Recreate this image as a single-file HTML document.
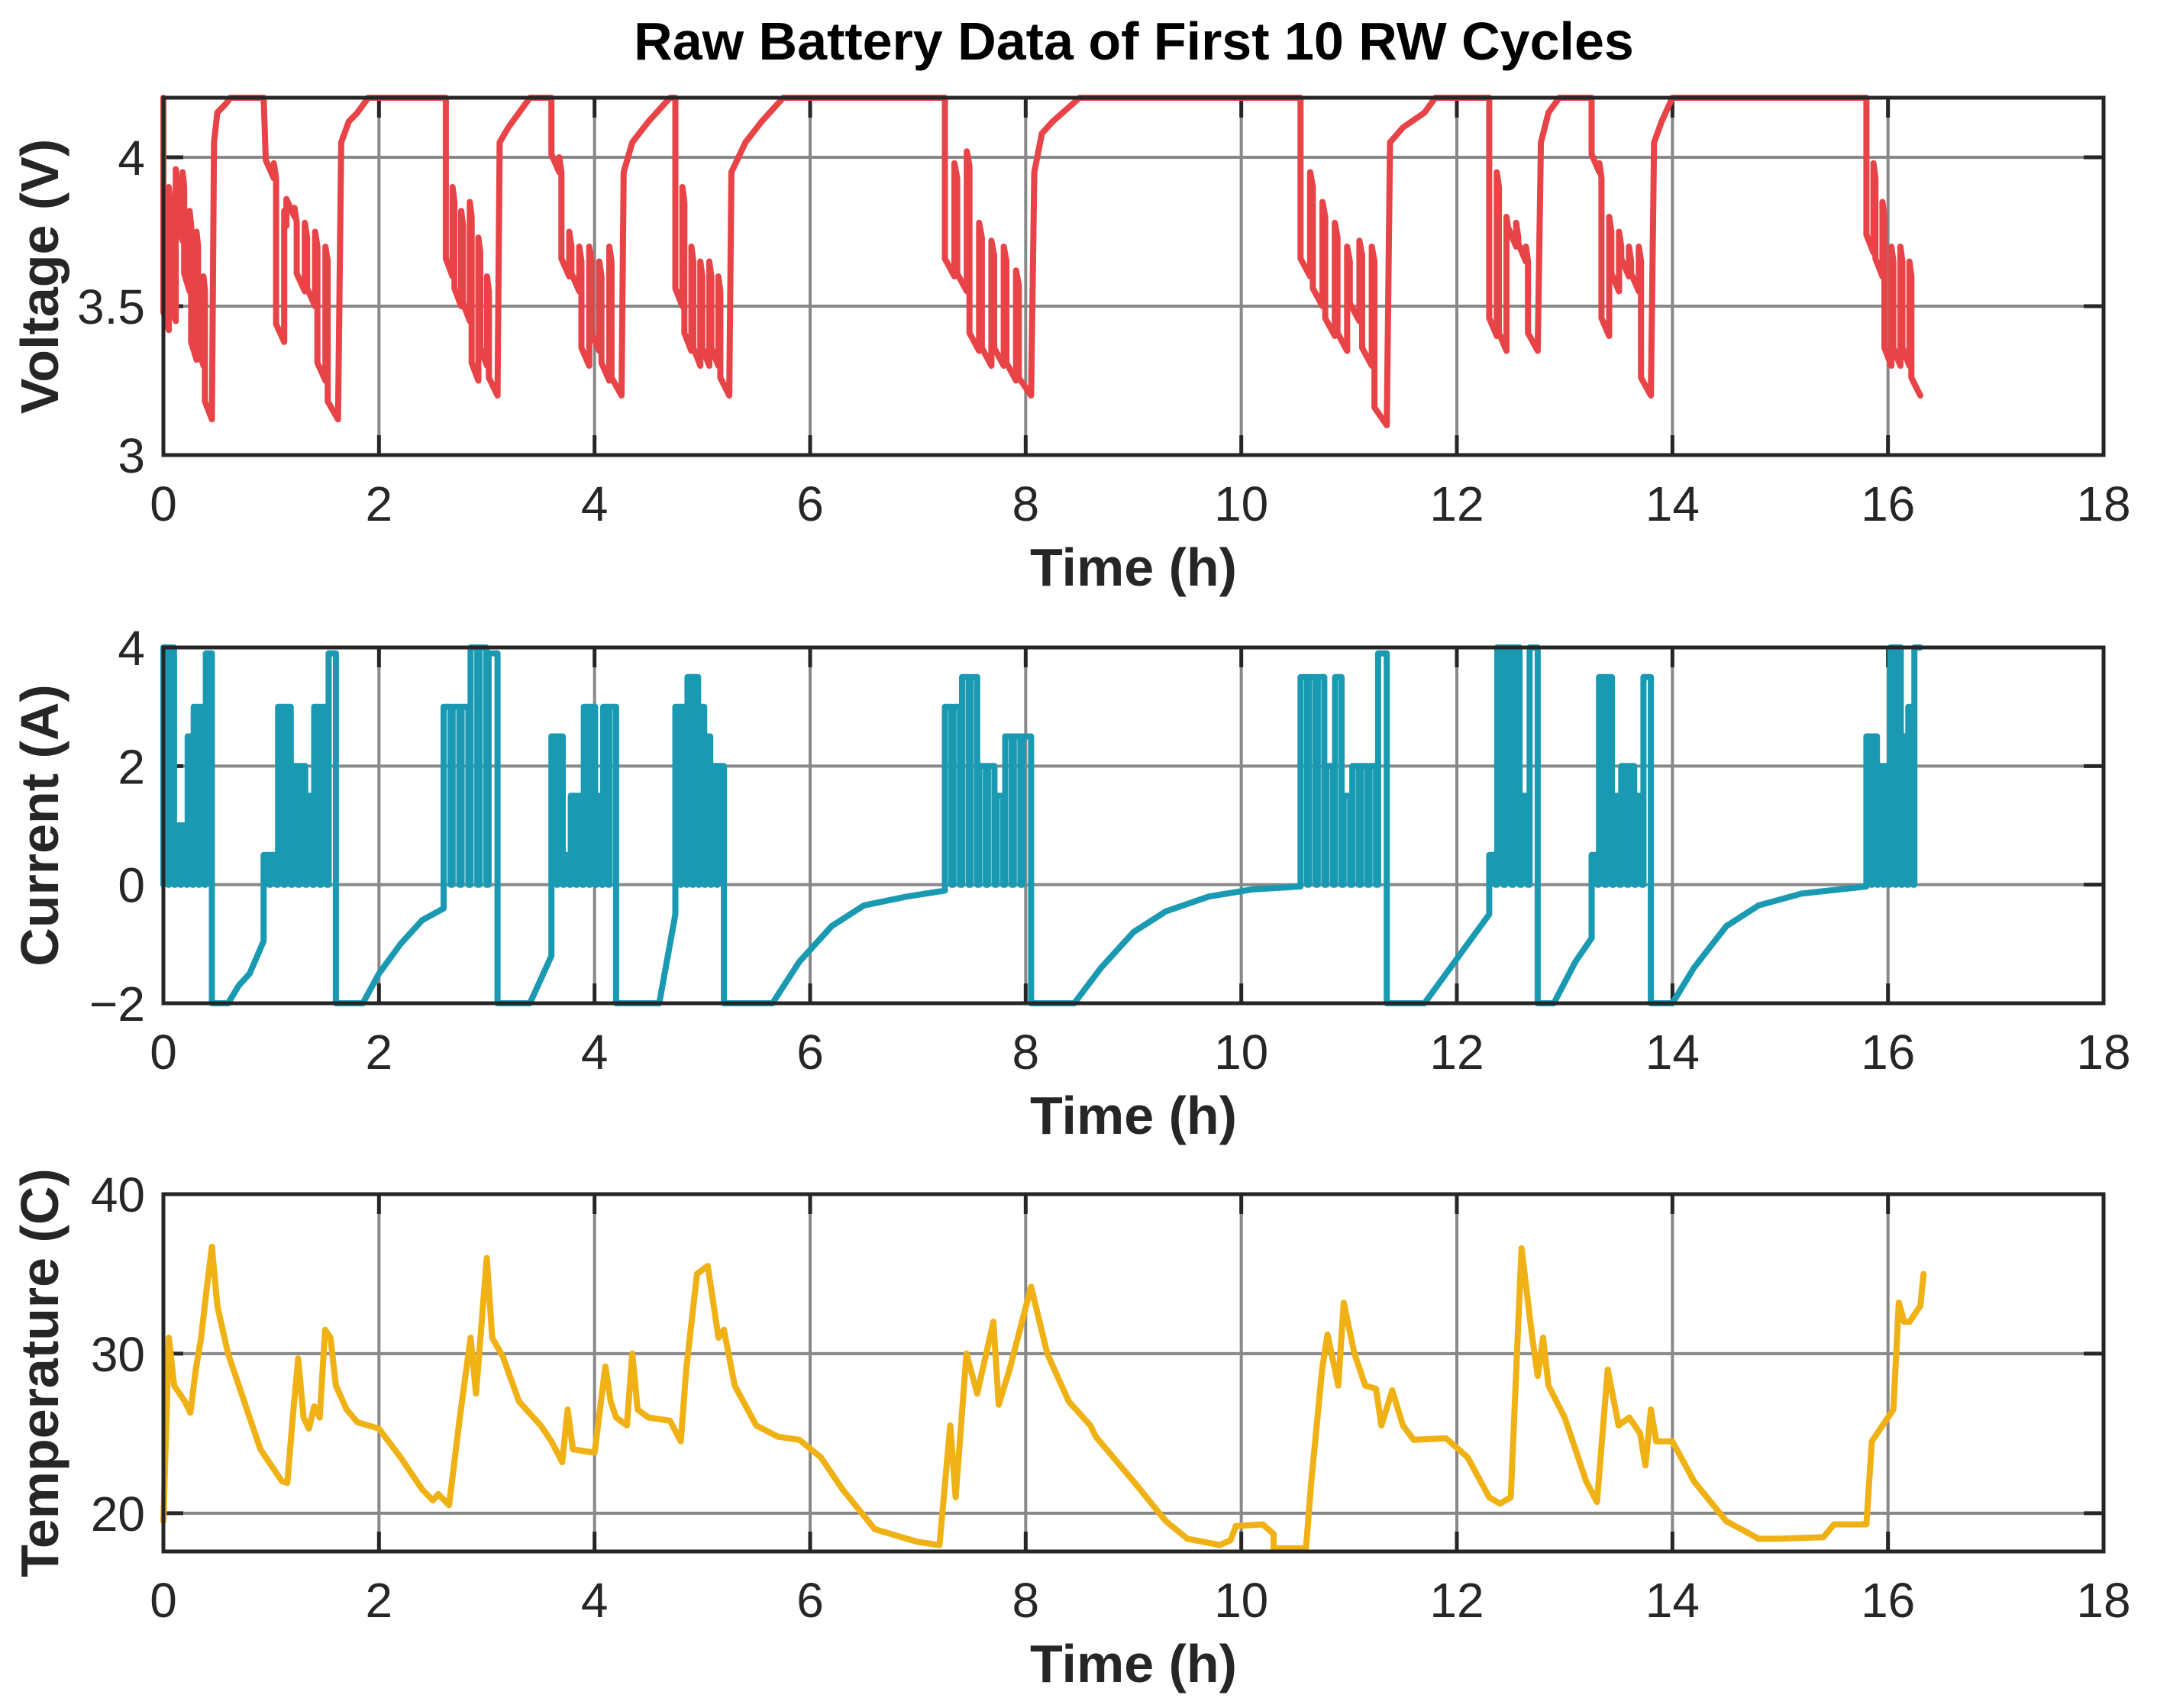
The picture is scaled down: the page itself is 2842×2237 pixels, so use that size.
<!DOCTYPE html>
<html><head><meta charset="utf-8"><style>
html,body{margin:0;padding:0;background:#fff}
svg{display:block}
text{font-family:"Liberation Sans",sans-serif;fill:#262626}
.tick{font-size:64px}
.lab{font-size:70px;font-weight:bold}
</style></head><body>
<svg id="chart" width="2842" height="2237" viewBox="0 0 2842 2237" xmlns="http://www.w3.org/2000/svg">
<text x="1485" y="78" text-anchor="middle" style="font-size:70px;font-weight:bold;fill:#000">Raw Battery Data of First 10 RW Cycles</text>
</svg>
<script>
// ---------- data ----------
const xTicks = [0,2,4,6,8,10,12,14,16,18];
const vTicks = [3,3.5,4];
const cTicks = [-2,0,2,4];
const tTicks = [20,30,40];
const vTickLabels = ["3","3.5","4"];
const cTickLabels = ["\u22122","0","2","4"];
const tTickLabels = ["20","30","40"];

const vGroups = [
{s:0,e:0.45,low:[3.42,3.45,3.72,3.55,3.32,3.3,3.12],rest:[3.9,3.96,3.95,3.82,3.75,3.6]},
{s:0.95,e:1.62,low:[3.93,3.38,3.8,3.55,3.5,3.25,3.12],rest:[3.98,3.82,3.83,3.78,3.75,3.7]},
{s:2.62,e:3.1,low:[3.6,3.5,3.45,3.25,3.3,3.2],rest:[3.9,3.82,3.85,3.73,3.6]},
{s:3.6,e:4.25,low:[3.95,3.6,3.55,3.3,3.35,3.25,3.2],rest:[4.0,3.75,3.7,3.7,3.65,3.7]},
{s:4.75,e:5.25,low:[3.5,3.35,3.3,3.3,3.3,3.2],rest:[3.9,3.7,3.65,3.65,3.6]},
{s:7.25,e:8.05,low:[3.6,3.55,3.35,3.3,3.3,3.25,3.2],rest:[3.98,4.02,3.78,3.72,3.7,3.62]},
{s:10.55,e:11.35,low:[3.6,3.5,3.4,3.35,3.45,3.3,3.1],rest:[3.95,3.85,3.78,3.7,3.72,3.7]},
{s:12.3,e:12.75,low:[3.4,3.35,3.7,3.65,3.35],rest:[3.95,3.8,3.78,3.7]},
{s:13.25,e:13.8,low:[3.95,3.4,3.55,3.6,3.55,3.2],rest:[3.98,3.8,3.75,3.7,3.7]},
{s:15.8,e:16.3,low:[3.68,3.6,3.3,3.3,3.3,3.2],rest:[3.98,3.85,3.7,3.7,3.65]}
];
const vCharge = [
[[0,4.2]],
[[0.47,4.05],[0.5,4.15],[0.58,4.18],[0.62,4.2],[0.93,4.2]],
[[1.65,4.05],[1.72,4.12],[1.8,4.15],[1.9,4.2],[2.62,4.2]],
[[3.12,4.05],[3.2,4.1],[3.3,4.15],[3.4,4.2],[3.6,4.2]],
[[4.27,3.95],[4.35,4.05],[4.5,4.12],[4.7,4.2],[4.75,4.2]],
[[5.27,3.95],[5.4,4.05],[5.55,4.12],[5.75,4.2],[7.25,4.2]],
[[8.08,3.95],[8.15,4.08],[8.25,4.12],[8.5,4.2],[10.55,4.2]],
[[11.38,4.05],[11.5,4.1],[11.7,4.15],[11.8,4.2],[12.3,4.2]],
[[12.78,4.05],[12.85,4.15],[12.95,4.2],[13.25,4.2]],
[[13.83,4.05],[13.9,4.12],[14.0,4.2],[15.8,4.2]],
[]
];

const cGroups = [
{s:0,e:0.45,lv:[4,4,1,1,2.5,3,3,3.9]},
{s:0.93,e:1.6,lv:[0.5,0.5,3,3,2,2,1.5,3,3,3.9]},
{s:2.6,e:3.1,lv:[3,3,3,4,4,3.9]},
{s:3.6,e:4.2,lv:[2.5,2.5,0.5,1.5,1.5,3,3,1.5,3,3]},
{s:4.75,e:5.2,lv:[3,3,3.5,3.5,3,2.5,2,2]},
{s:7.25,e:8.05,lv:[3,3,3.5,3.5,2,2,1.5,2.5,2.5,2.5]},
{s:10.55,e:11.35,lv:[3.5,3.5,3.5,2,3.5,1.5,2,2,2,3.9]},
{s:12.3,e:12.75,lv:[0.5,4,4,4,1.5,4]},
{s:13.25,e:13.8,lv:[0.5,3.5,3.5,1.5,2,2,1.5,3.5]},
{s:15.8,e:16.3,lv:[2.5,2.5,2,2,4,4,2.5,3,4]}
];
const cCharge = [
[[0,0]],
[[0.45,-2],[0.6,-2],[0.7,-1.7],[0.8,-1.5],[0.93,-0.95]],
[[1.6,-2],[1.85,-2],[2.0,-1.5],[2.2,-1.0],[2.4,-0.6],[2.6,-0.4]],
[[3.1,-2],[3.4,-2],[3.6,-1.2]],
[[4.2,-2],[4.6,-2],[4.75,-0.5]],
[[5.2,-2],[5.65,-2],[5.9,-1.3],[6.2,-0.7],[6.5,-0.35],[6.9,-0.2],[7.25,-0.1]],
[[8.05,-2],[8.45,-2],[8.7,-1.4],[9.0,-0.8],[9.3,-0.45],[9.7,-0.2],[10.1,-0.08],[10.55,-0.03]],
[[11.35,-2],[11.7,-2],[11.9,-1.5],[12.1,-1.0],[12.3,-0.5]],
[[12.75,-2],[12.9,-2],[13.1,-1.3],[13.25,-0.9]],
[[13.8,-2],[14.0,-2],[14.2,-1.4],[14.5,-0.7],[14.8,-0.35],[15.2,-0.15],[15.8,-0.03]],
[]
];

const tempT = [0,0.05,0.1,0.2,0.25,0.3,0.35,0.4,0.45,0.5,0.6,0.7,0.8,0.9,1.0,1.1,1.15,1.2,1.25,1.3,1.35,1.4,1.45,1.5,1.55,1.6,1.7,1.8,2.0,2.2,2.4,2.5,2.55,2.65,2.75,2.85,2.9,3.0,3.05,3.15,3.3,3.5,3.6,3.7,3.75,3.8,4.0,4.1,4.15,4.2,4.3,4.35,4.4,4.5,4.7,4.8,4.85,4.95,5.05,5.15,5.2,5.3,5.5,5.7,5.9,6.1,6.3,6.6,7.0,7.2,7.3,7.35,7.45,7.55,7.7,7.75,7.85,8.05,8.2,8.4,8.6,8.65,9.0,9.3,9.5,9.8,9.9,9.95,10.2,10.3,10.3,10.6,10.65,10.75,10.8,10.9,10.95,11.05,11.15,11.25,11.3,11.4,11.5,11.6,11.9,12.1,12.3,12.4,12.5,12.6,12.7,12.75,12.8,12.85,13.0,13.2,13.3,13.4,13.5,13.6,13.7,13.75,13.8,13.85,14.0,14.2,14.5,14.8,15.0,15.4,15.5,15.8,15.85,15.95,16.05,16.1,16.15,16.2,16.3,16.33];
const tempV = [19.5,31,28,27,26.3,29,31,34,36.7,33,30,28,26,24,23,22,21.9,26,29.7,26,25.3,26.7,26,31.5,31,28,26.5,25.7,25.3,23.5,21.5,20.8,21.2,20.5,26,31,27.5,36,31,29.8,27,25.5,24.5,23.2,26.5,24,23.8,29.2,27,26,25.5,30,26.5,26,25.8,24.5,29,35,35.5,31,31.5,28,25.5,24.8,24.6,23.5,21.5,19,18.2,18,25.5,21,30,27.5,32,26.8,29,34.2,30,27,25.5,24.8,22,19.5,18.4,18,18.3,19.2,19.3,18.7,17.8,17.8,22,29,31.2,28,33.2,30,28,27.8,25.5,27.7,25.5,24.6,24.7,23.5,21,20.6,21,36.6,31,28.6,31,28,26,22,20.7,29,25.5,26,25,23,26.5,24.5,24.5,22,19.5,18.4,18.4,18.5,19.3,19.3,24.5,25.5,26.5,33.2,32,32,33,35];

// ---------- layout ----------
const L=214, R=2755, X0=0, X1=18;
const panels=[
 {top:128,bot:596,y0:3,y1:4.2,ticks:vTicks,labels:vTickLabels,color:"#e84346",ylab:"Voltage (V)",name:"voltage"},
 {top:848,bot:1314,y0:-2,y1:4,ticks:cTicks,labels:cTickLabels,color:"#1a9ab2",ylab:"Current (A)",name:"current"},
 {top:1564,bot:2032,y0:17.6,y1:40,ticks:tTicks,labels:tTickLabels,color:"#f0b115",ylab:"Temperature (C)",name:"temperature"}
];
const NS="http://www.w3.org/2000/svg";
const svg=document.getElementById('chart');
function mk(tag,attrs,parent){const e=document.createElementNS(NS,tag);for(const k in attrs)e.setAttribute(k,attrs[k]);(parent||svg).appendChild(e);return e;}
const xs=t=>L+(t-X0)/(X1-X0)*(R-L);

function buildVoltage(){
  const pts=[];
  vGroups.forEach((g,gi)=>{
    vCharge[gi].forEach(p=>pts.push(p));
    const n=g.low.length, slot=(g.e-g.s)/n;
    for(let i=0;i<n;i++){
      const ts=g.s+i*slot;
      pts.push([ts,g.low[i]+0.06]);
      if(i<n-1){pts.push([ts+0.78*slot,g.low[i]]);pts.push([ts+0.78*slot,g.rest[i]]);pts.push([ts+slot,g.rest[i]-0.05]);}
      else pts.push([g.e,g.low[i]]);
    }
  });
  vCharge[vGroups.length].forEach(p=>pts.push(p));
  return pts;
}
function buildCurrent(){
  const pts=[];
  cGroups.forEach((g,gi)=>{
    cCharge[gi].forEach(p=>pts.push(p));
    const last=pts[pts.length-1];
    pts.push([g.s,last[1]]);
    const n=g.lv.length, slot=(g.e-g.s)/n;
    for(let i=0;i<n;i++){
      const ts=g.s+i*slot;
      pts.push([ts,0]);pts.push([ts,g.lv[i]]);
      if(i<n-1){pts.push([ts+0.75*slot,g.lv[i]]);pts.push([ts+0.75*slot,0]);}
      else pts.push([g.e,g.lv[i]]);
    }
  });
  return pts;
}
const series=[buildVoltage(),buildCurrent(),tempT.map((t,i)=>[t,tempV[i]])];

panels.forEach((p,pi)=>{
  const ys=v=>p.bot-(v-p.y0)/(p.y1-p.y0)*(p.bot-p.top);
  const g=mk('g',{});
  
  
  xTicks.forEach(t=>{
    const l=mk('line',{x1:xs(t),x2:xs(t),y1:p.top,y2:p.bot,stroke:'#888',"stroke-width":4},g);
    
    
  });
  p.ticks.forEach(v=>{
    const l=mk('line',{x1:L,x2:R,y1:ys(v),y2:ys(v),stroke:'#888',"stroke-width":4},g);
    
    
  });
  xTicks.forEach(t=>{
    mk('line',{x1:xs(t),x2:xs(t),y1:p.bot,y2:p.bot-26,stroke:'#262626',"stroke-width":5},g);
    mk('line',{x1:xs(t),x2:xs(t),y1:p.top,y2:p.top+26,stroke:'#262626',"stroke-width":5},g);
    const tx=mk('text',{x:xs(t),y:p.bot+86,"text-anchor":"middle",class:"tick"},g);
    tx.textContent=String(t);
    
    
  });
  p.ticks.forEach((v,i)=>{
    mk('line',{x1:L,x2:L+26,y1:ys(v),y2:ys(v),stroke:'#262626',"stroke-width":5},g);
    mk('line',{x1:R,x2:R-26,y1:ys(v),y2:ys(v),stroke:'#262626',"stroke-width":5},g);
    const tx=mk('text',{x:L-24,y:ys(v)+23,"text-anchor":"end",class:"tick"},g);
    tx.textContent=p.labels[i];
    
    
  });
  const d=series[pi].map((q,i)=>(i?'L':'M')+xs(q[0]).toFixed(1)+' '+ys(q[1]).toFixed(1)).join(' ');
  const path=mk('path',{d:d,fill:'none',stroke:p.color,"stroke-width":8,"stroke-linejoin":"round","stroke-linecap":"round"},g);
  
  
  const fr=mk('rect',{x:L,y:p.top,width:R-L,height:p.bot-p.top,fill:'none',stroke:'#262626',"stroke-width":5},g);
  
  
  const xl=mk('text',{x:(L+R)/2,y:p.bot+171,"text-anchor":"middle",class:"lab"},g);
  xl.textContent='Time (h)';
  
  
  const cy=(p.top+p.bot)/2;
  const yl=mk('text',{x:0,y:0,"text-anchor":"middle",class:"lab",transform:`translate(76 ${cy}) rotate(-90)`},g);
  yl.textContent=p.ylab;
  
  
});
</script>
</body></html>
